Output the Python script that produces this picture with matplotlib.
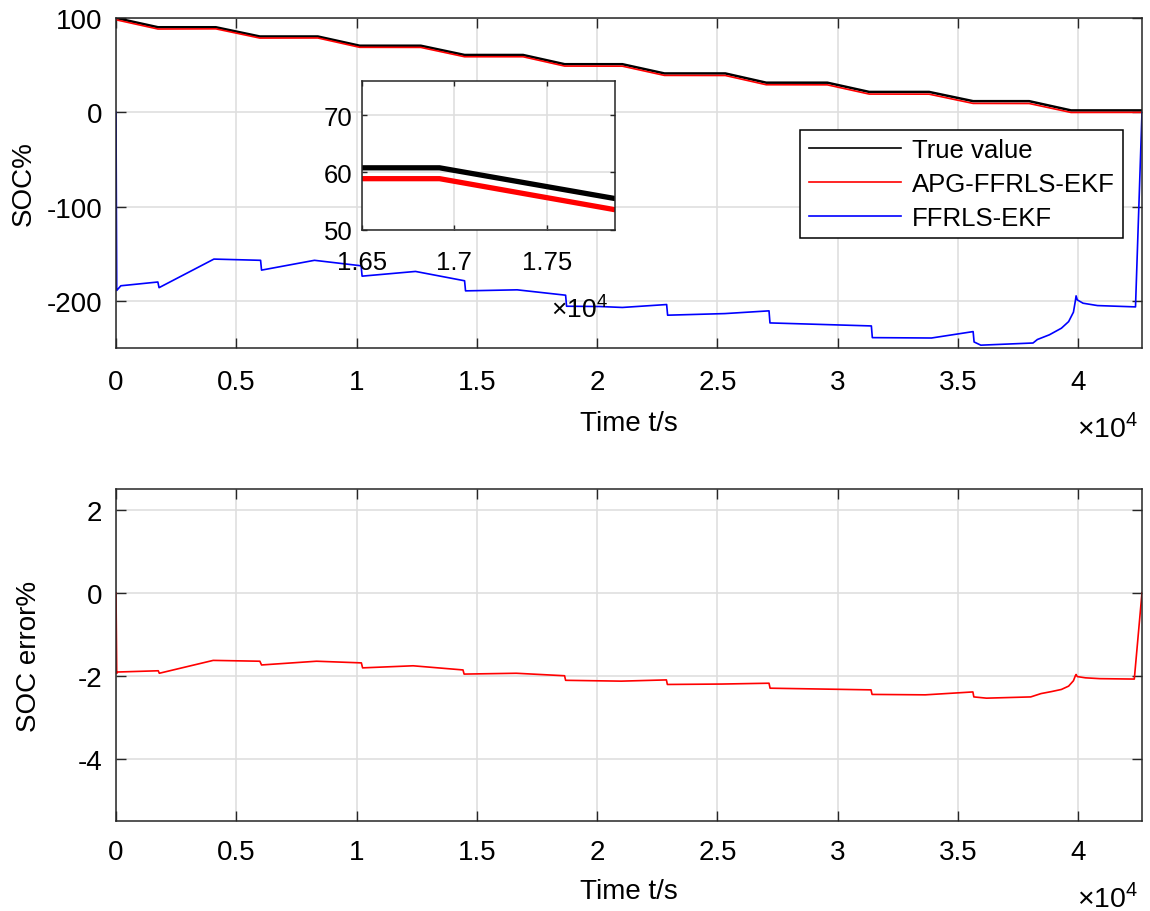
import matplotlib
matplotlib.use('Agg')
import matplotlib.pyplot as plt
from matplotlib.ticker import FuncFormatter

plt.rcParams['font.family'] = ['Liberation Sans', 'DejaVu Sans']
plt.rcParams['font.size'] = 20
plt.rcParams['axes.unicode_minus'] = False
plt.rcParams['mathtext.fontset'] = 'custom'
plt.rcParams['mathtext.rm'] = 'Liberation Sans'

#Data (time in s)
true_t = [0, 1745, 4150, 5980, 8390, 10130, 12670, 14490, 16920, 18650, 21050,
          22800, 25330, 27030, 29570, 31310, 33800, 35630, 37960, 39700, 42650]
true_soc = [100, 90.2, 90.2, 80.4, 80.4, 70.6, 70.6, 60.8, 60.8, 51.0, 51.0,
            41.2, 41.2, 31.4, 31.4, 21.6, 21.6, 11.8, 11.8, 2.0, 2.0]

apg_t = true_t
apg_soc = [98.1, 88.3, 88.5, 78.7, 78.8, 68.9, 68.8, 58.9, 58.9, 49.0, 48.9,
           39.1, 39.0, 29.2, 29.1, 19.3, 19.2, 9.4, 9.3, -0.2, -0.1]

ffrls_t = [0, 30, 200, 1740, 1790, 4070, 6010, 6050, 8250, 10190, 10230, 12450,
           14490, 14530, 16675, 18690, 18730, 20100, 21050, 22890, 22930, 25310,
           27145, 27185, 31400, 31440, 33900, 35630, 35670, 35950, 38120, 38300,
           38800, 39300, 39600, 39800, 39880, 39910, 39960, 40200, 40800, 42380,
           42650]
ffrls_soc = [0, -189, -184, -180, -186, -155.7, -157, -167.4, -157, -162.8, -173.8,
             -168.8, -178.7, -189.4, -188.3, -194, -205.7, -206, -207, -203.9,
             -215.2, -213.5, -210.6, -223.4, -226.6, -239, -239.4, -232.6, -243.6,
             -247, -244.7, -241, -236, -229, -222, -212, -200, -194.7, -199,
             -202.5, -205, -206.4, 0]

err_t = [0, 30, 60, 1757, 1800, 4040, 5980, 6050, 8335, 10200, 10250, 12350,
         14425, 14470, 16640, 18647, 18690, 21000, 22880, 22920, 25170, 27145,
         27190, 31385, 31430, 33640, 35620, 35660, 36186, 38025, 38450, 38900,
         39300, 39600, 39800, 39880, 39910, 39960, 40300, 40900, 42330, 42650]
err = [0, -1.94, -1.91, -1.88, -1.94, -1.63, -1.65, -1.74, -1.65, -1.69, -1.81,
       -1.76, -1.86, -1.96, -1.94, -2.0, -2.11, -2.13, -2.10, -2.21, -2.2, -2.18,
       -2.30, -2.34, -2.45, -2.46, -2.39, -2.51, -2.54, -2.51, -2.43, -2.38,
       -2.33, -2.25, -2.12, -2.0, -1.97, -2.02, -2.05, -2.07, -2.08, 0]

legend_labels = ['True value', 'APG-FFRLS-EKF', 'FFRLS-EKF']

#Helpers
W, H = 1150.0, 912.0

def px_axes(fig, left, top, right, bottom):
    return fig.add_axes([left / W, 1 - bottom / H, (right - left) / W, (bottom - top) / H])

def style_axes(ax, size=20, length=7.5, xpad=13, ypad=10):
    ax.grid(True, color='#dfdfdf', linewidth=1.2)
    ax.set_axisbelow(True)
    ax.tick_params(direction='in', length=length, width=1, top=True, right=True,
                   labelsize=size, colors='#262626', labelcolor='black')
    ax.tick_params(axis='x', pad=xpad)
    ax.tick_params(axis='y', pad=ypad)
    for s in ax.spines.values():
        s.set_linewidth(1.1)
        s.set_color('#262626')

e4 = FuncFormatter(lambda v, p: '%g' % (v / 1e4))

fig = plt.figure(figsize=(11.5, 9.12), dpi=100)

#Top: SOC
ax1 = px_axes(fig, 116, 19, 1142, 349)
ax1.plot(true_t, true_soc, color='black', linewidth=1.8, label=legend_labels[0])
ax1.plot(apg_t, apg_soc, color='red', linewidth=1.2, label=legend_labels[1])
ax1.plot(ffrls_t, ffrls_soc, color='blue', linewidth=1.2, label=legend_labels[2])
ax1.set_xlim(0, 42650)
ax1.set_ylim(-250, 100)
ax1.set_xticks(range(0, 42000, 5000))
ax1.set_yticks([-200, -100, 0, 100])
ax1.xaxis.set_major_formatter(e4)
style_axes(ax1, xpad=15)
ax1.set_xlabel('Time t/s', labelpad=11)
ax1.set_ylabel('SOC%')
ax1.yaxis.set_label_coords(-0.077, 0.5)
ax1.text(0.996, -0.239, r'$\times10^{4}$', transform=ax1.transAxes,
         ha='right', va='center', fontsize=20.5)
leg = ax1.legend(loc='upper right', bbox_to_anchor=(0.9815, 0.6606), borderaxespad=0,
                 fontsize=18.5, fancybox=False, framealpha=1, edgecolor='black',
                 handlelength=3.6, handletextpad=0.4, labelspacing=0.38,
                 borderpad=0.33)
leg.get_frame().set_linewidth(1.1)
for ln in leg.get_lines():
    ln.set_linewidth(1.2)

#Inset zoom
axi = px_axes(fig, 362, 82, 615, 230.5)
axi.plot(true_t, true_soc, color='black', linewidth=3.8)
axi.plot(apg_t, apg_soc, color='red', linewidth=3.8)
axi.set_xlim(16500, 17870)
axi.set_ylim(50, 76)
axi.set_xticks([16500, 17000, 17500])
axi.set_yticks([50, 60, 70])
axi.xaxis.set_major_formatter(e4)
style_axes(axi, size=18.5, length=3.3, xpad=15, ypad=7)
axi.text(0.97, -0.529, r'$\times10^{4}$', transform=axi.transAxes,
         ha='right', va='center', fontsize=19)

#Bottom: SOC error
ax2 = px_axes(fig, 116, 490, 1142, 822)
ax2.plot(err_t, err, color='red', linewidth=1.2)
ax2.set_xlim(0, 42650)
ax2.set_ylim(-5.5, 2.5)
ax2.set_xticks(range(0, 42000, 5000))
ax2.set_yticks([-4, -2, 0, 2])
ax2.xaxis.set_major_formatter(e4)
style_axes(ax2)
ax2.set_xlabel('Time t/s', labelpad=9)
ax2.set_ylabel('SOC error%')
ax2.yaxis.set_label_coords(-0.072, 0.5)
ax2.text(0.996, -0.231, r'$\times10^{4}$', transform=ax2.transAxes,
         ha='right', va='center', fontsize=20.5)

fig.savefig('out.png', dpi=100)
